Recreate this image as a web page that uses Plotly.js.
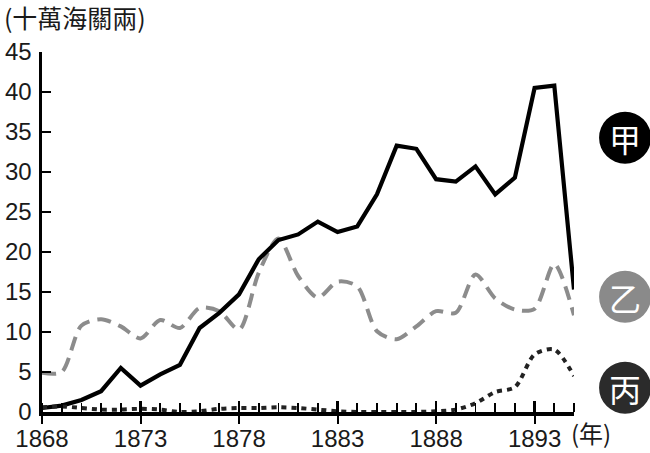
<!DOCTYPE html>
<html>
<head>
<meta charset="utf-8">
<script src="https://cdn.plot.ly/plotly-3.0.1.min.js"></script>
<style>html,body{margin:0;padding:0;background:#fff;}#chart{width:650px;height:453px;}</style>
</head>
<body>
<div id="chart"></div>
<script>
const years = [1868,1869,1870,1871,1872,1873,1874,1875,1876,1877,1878,1879,1880,1881,1882,1883,1884,1885,1886,1887,1888,1889,1890,1891,1892,1893,1894,1895];
const jia  = [0.5,0.8,1.5,2.6,5.5,3.3,4.7,5.9,10.5,12.4,14.7,19.1,21.5,22.2,23.8,22.5,23.2,27.2,33.3,32.9,29.1,28.8,30.7,27.2,29.3,40.5,40.8,15.3];
const yi   = [4.9,5.0,10.8,11.6,10.7,9.2,11.5,10.5,13.0,12.6,10.3,17.4,21.7,17.0,14.3,16.3,15.7,10.1,9.1,10.7,12.6,12.4,17.2,14.2,12.8,12.9,18.5,12.1];
const bing = [0.6,0.7,0.5,0.3,0.3,0.4,0.3,0.0,0.1,0.4,0.5,0.5,0.6,0.5,0.3,0.1,0.0,0.0,0.0,0.0,0.1,0.3,1.1,2.5,3.1,7.2,7.8,4.5];
const seriesNames = ['甲','乙','丙'];
const yTicks = [0,5,10,15,20,25,30,35,40,45];
const xTicks = [1868,1873,1878,1883,1888,1893];
const unitLabel = '(十萬海關兩)';
const yearLabel = '(年)';

const numFont = {family:'Liberation Sans, Arial, sans-serif', size:24, color:'#1a1a1a'};
const cjk = 'Noto Sans CJK TC, Noto Sans CJK JP, sans-serif';

const traces = [
  {x:years, y:yi, mode:'lines', line:{color:'#8c8c8c', width:4, dash:'14px,8px', shape:'spline', smoothing:0.8}, name:seriesNames[1], cliponaxis:false},
  {x:years, y:bing, mode:'lines', xaxis:'x2', line:{color:'#222', width:4, dash:'5px,5px', shape:'spline', smoothing:0.8}, name:seriesNames[2], cliponaxis:false},
  {x:years, y:jia, mode:'lines', line:{color:'#000', width:4.2}, name:seriesNames[0], cliponaxis:false}
];

const circ = [
  {name:seriesNames[0], y:0.762, color:'#000'},
  {name:seriesNames[1], y:0.320, color:'#8a8a8a'},
  {name:seriesNames[2], y:0.0675, color:'#2b2b2b'}
];
const shapes = circ.map(c => ({type:'circle', xref:'paper', yref:'paper', xsizemode:'pixel', ysizemode:'pixel',
  xanchor:1.096, yanchor:c.y, x0:-26, x1:26, y0:-26, y1:26, fillcolor:c.color, line:{width:0}}));
const annotations = circ.map(c => ({xref:'paper', yref:'paper', x:1.096, y:c.y, text:c.name, showarrow:false,
  xanchor:'center', yanchor:'middle', font:{family:cjk, size:32, color:'#fff', weight:'normal'}}));
annotations.push({xref:'paper', yref:'paper', x:1, y:0, xanchor:'left', yanchor:'middle', xshift:-5, yshift:-20,
  text:yearLabel, showarrow:false, font:{family:cjk, size:24, color:'#1a1a1a', weight:'normal'}});

const layout = {
  width:650, height:453,
  margin:{l:42, r:76, t:52, b:41},
  paper_bgcolor:'#fff', plot_bgcolor:'#fff',
  showlegend:false,
  title:{text:unitLabel, x:0.006, xref:'container', xanchor:'left', y:0.958, yref:'container', yanchor:'middle',
    font:{family:cjk, size:25, color:'#1a1a1a', weight:'normal'}},
  xaxis:{range:[1868,1895], showgrid:false, zeroline:false, showline:true, linecolor:'#000', linewidth:3.5,
    tickmode:'linear', tick0:xTicks[0], dtick:5, ticks:'outside', ticklen:8, tickwidth:2, tickcolor:'#000',
    tickfont:numFont, ticklabelstandoff:-5,
    minor:{dtick:1, tick0:xTicks[0], ticks:'inside', ticklen:9, tickwidth:1.8, tickcolor:'#000', showgrid:false}},
  xaxis2:{range:[1868,1895], overlaying:'x', anchor:'y', side:'bottom', showgrid:false, zeroline:false, showline:false,
    showticklabels:false, tickmode:'linear', tick0:xTicks[0], dtick:5, ticks:'inside', ticklen:11, tickwidth:2.2, tickcolor:'#000'},
  yaxis:{range:[0,45], showgrid:false, zeroline:false, showline:true, linecolor:'#000', linewidth:3.5,
    tickmode:'array', tickvals:yTicks, ticktext:yTicks.map(String), ticks:'inside', ticklen:9, tickwidth:2, tickcolor:'#000',
    tickfont:numFont, ticklabelstandoff:2},
  shapes:shapes,
  annotations:annotations
};
Plotly.newPlot('chart', traces, layout, {staticPlot:true, displayModeBar:false});
</script>
</body>
</html>
